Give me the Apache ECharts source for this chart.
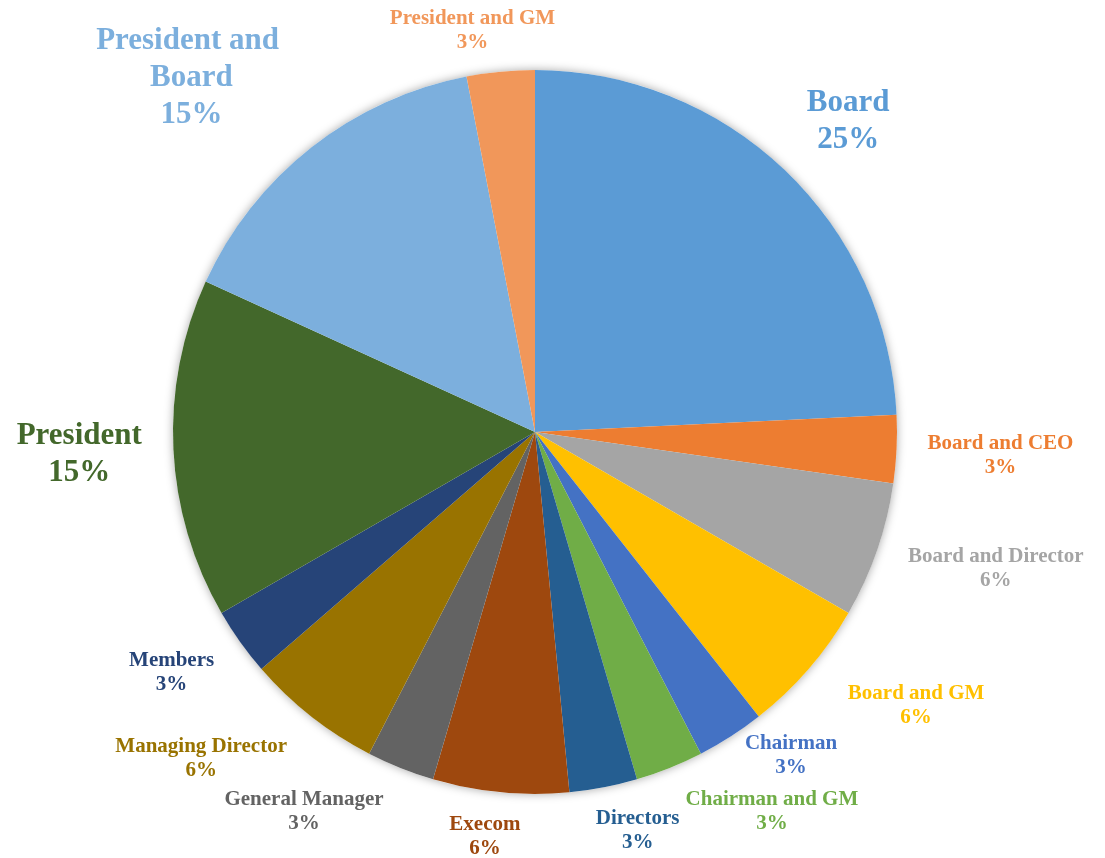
<!DOCTYPE html>
<html>
<head>
<meta charset="utf-8">
<style>
  html, body { margin: 0; padding: 0; background: #fff; }
  #chart { width: 1105px; height: 858px; }
</style>
<script src="https://cdn.jsdelivr.net/npm/echarts@6/dist/echarts.min.js"></script>
</head>
<body>
<div id="chart"></div>
<script>
// who approves - number of responses per answer
const categories = ['Board', 'Board and CEO', 'Board and Director', 'Board and GM', 'Chairman',
  'Chairman and GM', 'Directors', 'Execom', 'General Manager', 'Managing Director', 'Members',
  'President', 'President and Board', 'President and GM'];
const counts = [8, 1, 2, 2, 1, 1, 1, 2, 1, 2, 1, 5, 5, 1];
const percentLabels = ['25%', '3%', '6%', '6%', '3%', '3%', '3%', '6%', '3%', '6%', '3%', '15%', '15%', '3%'];

const colors = ['#5B9BD5', '#ED7D31', '#A5A5A5', '#FFC000', '#4472C4', '#70AD47', '#255E91',
  '#9E480E', '#636363', '#997300', '#264478', '#43682B', '#7CAFDD', '#F1975A'];
const bigLabels = ['Board', 'President', 'President and Board'];

// small hand nudges (px) to mimic how Excel spread the labels
const labelNudge = [
  [10, 7], [8, 2], [12, -19], [40, -22], [24, -37], [74, -27], [24, -9],
  [-11, -5], [-69, -25], [-52, -32], [-11, -10], [-8, 1], [-41, 31], [-23, 12]
];
const GAP = 22;

const chart = echarts.init(document.getElementById('chart'));

const pieData = categories.map(function (name, i) {
  const big = bigLabels.indexOf(name) >= 0;
  const label = { color: colors[i] };
  if (big) {
    label.fontSize = 31;
    label.lineHeight = 37;
    if (name === 'President and Board') {
      label.width = 200;
      label.overflow = 'break';
    }
  }
  return { name: name, value: counts[i], itemStyle: { color: colors[i] }, label: label };
});

chart.setOption({
  animation: false,
  series: [
    {
      // soft shadow behind the pie
      type: 'pie',
      center: [535, 432],
      radius: 362,
      silent: true,
      z: 1,
      data: [{ value: 1 }],
      label: { show: false },
      labelLine: { show: false },
      itemStyle: { color: '#ffffff', shadowBlur: 10, shadowColor: 'rgba(0,0,0,0.35)' }
    },
    {
      type: 'pie',
      center: [535, 432],
      radius: 362,
      z: 2,
      startAngle: 90,
      clockwise: true,
      avoidLabelOverlap: false,
      data: pieData,
      itemStyle: { borderWidth: 0 },
      label: {
        show: true,
        position: 'outside',
        fontFamily: 'Liberation Serif',
        fontWeight: 'bold',
        fontSize: 21,
        lineHeight: 24,
        formatter: function (p) {
          return p.name + '\n' + percentLabels[p.dataIndex];
        }
      },
      labelLine: { show: true, length: 10, length2: 10, lineStyle: { opacity: 0 } },
      emphasis: { disabled: true },
      labelLayout: function (p) {
        const pts = p.labelLinePoints;
        if (!pts) return {};
        const dx = pts[1][0] - pts[0][0];
        const dy = pts[1][1] - pts[0][1];
        const len = Math.sqrt(dx * dx + dy * dy) || 1;
        const ux = dx / len, uy = dy / len;
        const w = p.labelRect.width, h = p.labelRect.height;
        const d = GAP + Math.abs(ux) * w / 2 + Math.abs(uy) * h / 2;
        const n = labelNudge[p.dataIndex] || [0, 0];
        return {
          x: pts[0][0] + ux * d + n[0],
          y: pts[0][1] + uy * d + n[1],
          align: 'center',
          verticalAlign: 'middle'
        };
      }
    }
  ]
});
</script>
</body>
</html>
